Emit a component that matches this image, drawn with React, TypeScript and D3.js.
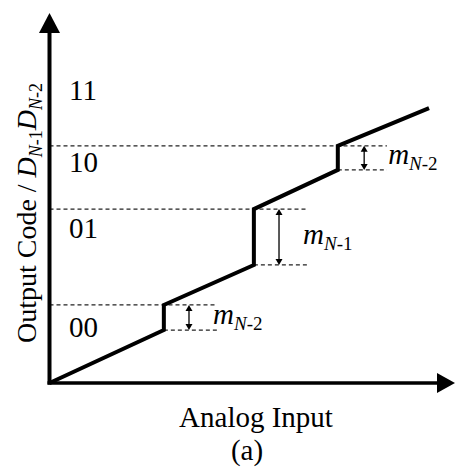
import React from "react";
import * as d3 from "d3";

// Transfer characteristic of a two-stage sub-ranging quantizer (normalized units, 0–100)
const stepInputs = [28.2, 50.4, 71.1];      // analog input where the code changes
const stepLows = [14.3, 31.9, 57.6];        // output just before each transition
const stepHighs = [21.1, 47.0, 64.1];       // output just after each transition
const endPoint = [93.6, 74.3];              // last point of the characteristic
const stepSubscripts = ["N-2", "N-1", "N-2"];
const gapMarkerX = [34.4, 56.6, 77.6];      // where the step-height arrows sit
const guideEnds = [41.3, 63.5, 83.2];       // right end of the dashed guides

const codeLabels = ["00", "01", "10", "11"];
const codeLabelY = [12.4, 39.2, 57.0, 76.5];
const codeLabelX = 4.8;

const W = 456;
const H = 472;
const FONT = "'Liberation Serif', 'Times New Roman', serif";

const x = d3.scaleLinear().domain([0, 100]).range([49.5, 455]);
const y = d3.scaleLinear().domain([0, 100]).range([383, 13]);

function buildCurve(): [number, number][] {
  const pts: [number, number][] = [[0, 0]];
  stepInputs.forEach((s, i) => {
    pts.push([s, stepLows[i]]);
    pts.push([s, stepHighs[i]]);
  });
  pts.push([endPoint[0], endPoint[1]]);
  return pts;
}

function DoubleArrow({ cx, y1, y2 }: { cx: number; y1: number; y2: number }) {
  const hw = 3.5;
  const hl = 6;
  const top = Math.min(y1, y2);
  const bot = Math.max(y1, y2);
  return (
    <g>
      <line x1={cx} x2={cx} y1={top + 2} y2={bot - 2} stroke="#000" strokeWidth={1.3} />
      <path d={`M${cx},${top} L${cx - hw},${top + hl} L${cx + hw},${top + hl} Z`} fill="#000" />
      <path d={`M${cx},${bot} L${cx - hw},${bot - hl} L${cx + hw},${bot - hl} Z`} fill="#000" />
    </g>
  );
}

export default function App() {
  const line = d3
    .line<[number, number]>()
    .x((d) => x(d[0]))
    .y((d) => y(d[1]));
  const curve = buildCurve();
  const x0 = x(0);
  const y0 = y(0);
  const xTip = x(100);
  const yTip = y(100);

  return (
    <svg
      width={W}
      height={H}
      viewBox={`0 0 ${W} ${H}`}
      style={{ position: "absolute", left: 0, top: 0, background: "#fff" }}
      fontFamily={FONT}
    >
      <rect width={W} height={H} fill="#fff" />

      {/* dashed guides: thresholds from the vertical axis, step bottoms from the step */}
      {stepInputs.map((s, i) => (
        <g key={`g${i}`} stroke="#222" strokeWidth={1.3} strokeDasharray="4 3" fill="none">
          <line x1={x0} x2={x(guideEnds[i])} y1={y(stepHighs[i])} y2={y(stepHighs[i])} />
          <line x1={x(s)} x2={x(guideEnds[i])} y1={y(stepLows[i])} y2={y(stepLows[i])} />
        </g>
      ))}

      {/* axes */}
      <line x1={x0} x2={x0} y1={y0 + 1.5} y2={yTip + 18} stroke="#000" strokeWidth={4} />
      <path d={`M${x0},${yTip} L${x0 - 10.5},${yTip + 20} L${x0 + 10.5},${yTip + 20} Z`} fill="#000" />
      <line x1={x0 - 2} x2={xTip - 16} y1={y0} y2={y0} stroke="#000" strokeWidth={3.5} />
      <path d={`M${xTip},${y0} L${xTip - 18},${y0 - 10} L${xTip - 18},${y0 + 10} Z`} fill="#000" />

      {/* characteristic */}
      <path
        d={line(curve) ?? ""}
        fill="none"
        stroke="#000"
        strokeWidth={4}
        strokeLinejoin="miter"
        strokeLinecap="butt"
      />

      {/* step heights */}
      {stepInputs.map((_, i) => {
        const yHi = y(stepHighs[i]);
        const yLo = y(stepLows[i]);
        const mid = (yHi + yLo) / 2;
        return (
          <g key={`m${i}`}>
            <DoubleArrow cx={x(gapMarkerX[i])} y1={yHi} y2={yLo} />
            <text x={x(gapMarkerX[i]) + 24} y={mid + 6.5} fontSize={29} fill="#000">
              <tspan fontStyle="italic">m</tspan>
              <tspan fontSize={19} dy={6} fontStyle="italic">N</tspan>
              <tspan fontSize={19}>{stepSubscripts[i].slice(1)}</tspan>
            </text>
          </g>
        );
      })}

      {/* output codes */}
      {codeLabels.map((c, i) => (
        <text key={c} x={x(codeLabelX)} y={y(codeLabelY[i])} fontSize={29} fill="#000">
          {c}
        </text>
      ))}

      {/* axis titles */}
      <text x={256} y={427} fontSize={29} textAnchor="middle" fill="#000">
        Analog Input
      </text>
      <text x={247} y={460} fontSize={29} textAnchor="middle" fill="#000">
        (a)
      </text>
      <text
        transform="translate(36,213) rotate(-90)"
        fontSize={28}
        textAnchor="middle"
        fill="#000"
      >
        <tspan>Output Code / </tspan>
        <tspan fontStyle="italic">D</tspan>
        <tspan fontSize={18} dy={6} fontStyle="italic">N</tspan>
        <tspan fontSize={18}>-1</tspan>
        <tspan fontStyle="italic" dy={-6}>D</tspan>
        <tspan fontSize={18} dy={6} fontStyle="italic">N</tspan>
        <tspan fontSize={18}>-2</tspan>
      </text>
    </svg>
  );
}
